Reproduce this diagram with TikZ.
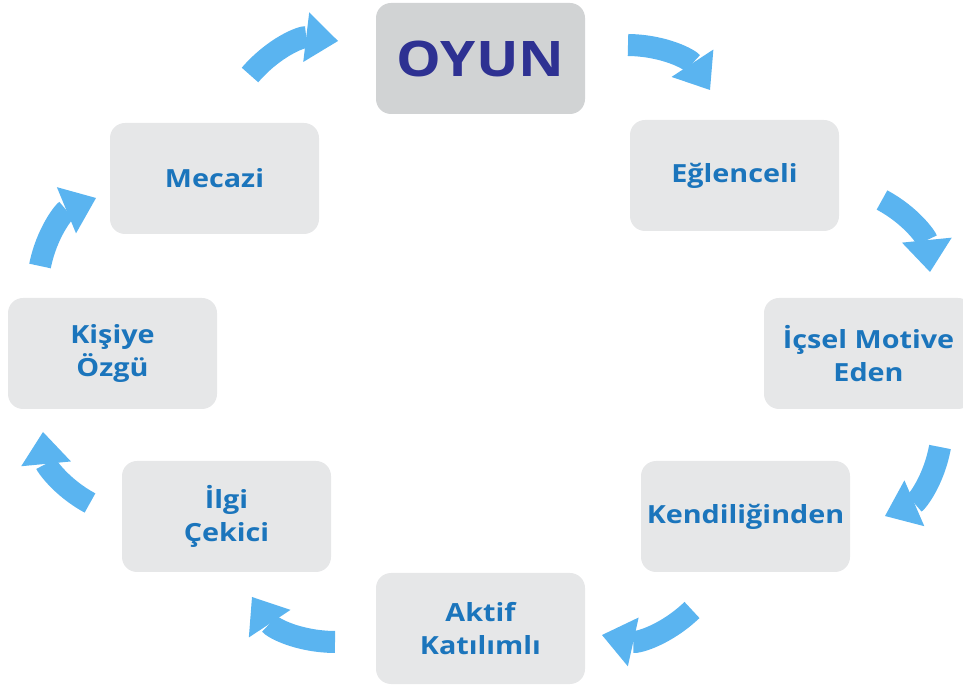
\documentclass[tikz,border=0pt]{standalone}
\usepackage{fontspec}
\setmainfont[FakeStretch=1.15]{Open Sans}
\usetikzlibrary{arrows.meta}
\definecolor{boxgray}{HTML}{E6E7E8}
\definecolor{topgray}{HTML}{D1D3D4}
\definecolor{textblue}{HTML}{1B75BC}
\definecolor{navy}{HTML}{2E3192}
\definecolor{arrowblue}{HTML}{5AB4F0}
\tikzset{
	box/.style={fill=boxgray, rounded corners=15pt, minimum width=209pt, minimum height=111pt,
		inner sep=0pt, align=center, text=textblue, font=\bfseries\fontsize{25}{33}\selectfont},
	topbox/.style={box, fill=topgray, text=navy, font=\bfseries\fontsize{49}{56}\selectfont},
	flow/.style={draw=arrowblue, line width=22pt,
		-{Triangle[width=50pt, length=32pt, line width=0pt]}}
}
\newcommand{\stepBox}[5][]{
	\path (#2,#3) node[box, #1](#4){#5};
}
\newcommand{\flowArrow}[3][]{
	\draw[flow, #1] (#2) to[bend left=28] (#3);
}

\begin{document}
\begin{tikzpicture}[x=1pt, y=1pt]
	\useasboundingbox (0,0) rectangle (963,693);

	\stepBox[topbox]{480.5}{634.5}{oyun}{OYUN};
	\stepBox{734.5}{517.5}{eglenceli}{Eğlenceli};
	\stepBox{868.5}{339.5}{icsel}{İçsel Motive\\Eden};
	\stepBox{745.5}{176.5}{kendi}{Kendiliğinden};
	\stepBox{480.5}{64.5}{aktif}{Aktif\\Katılımlı};
	\stepBox{226.5}{176.5}{ilgi}{İlgi\\Çekici};
	\stepBox{112.5}{339.5}{kisiye}{Kişiye\\Özgü};
	\stepBox{214.5}{514.5}{mecazi}{Mecazi};

	% arrow ends
	\coordinate (a1) at (250,618);  \coordinate (b1) at (338,652);
	\coordinate (a2) at (628,648);  \coordinate (b2) at (710,603);
	\coordinate (a3) at (882,493);  \coordinate (b3) at (930,421);
	\coordinate (a4) at (940,246);  \coordinate (b4) at (885,177);
	\coordinate (a5) at (692,83);   \coordinate (b5) at (602,58);
	\coordinate (a6) at (335,51);   \coordinate (b6) at (252,96);
	\coordinate (a7) at (90,190);   \coordinate (b7) at (43,261);
	\coordinate (a8) at (40,427);   \coordinate (b8) at (96,495);

	\flowArrow{a1}{b1};
	\flowArrow{a2}{b2};
	\flowArrow{a3}{b3};
	\flowArrow{a4}{b4};
	\flowArrow{a5}{b5};
	\flowArrow{a6}{b6};
	\flowArrow{a7}{b7};
	\flowArrow{a8}{b8};
\end{tikzpicture}
\end{document}
